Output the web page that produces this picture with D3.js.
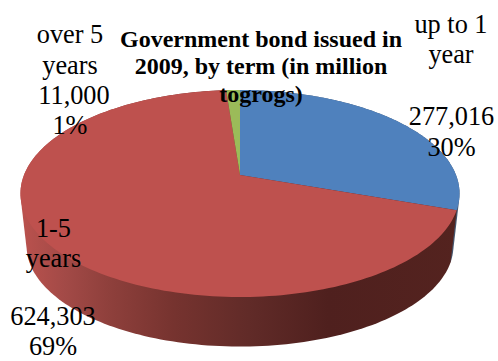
<!DOCTYPE html>
<html>
<head>
<meta charset="utf-8">
<style>
html,body{margin:0;padding:0;background:#fff}
svg{display:block}
text{font-family:"Liberation Serif",serif;fill:#000}
</style>
<script src="https://cdnjs.cloudflare.com/ajax/libs/d3/7.8.5/d3.min.js"></script>
</head>
<body>
<svg id="chart" width="498" height="361"></svg>
<script>
const categories = ["up to 1 year", "1-5 years", "over 5 years"];
const amounts = [277016, 624303, 11000];
const shares = ["30%", "69%", "1%"];
const topColors = ["#4f81bd", "#be514e", "#9bbb59"];
const sideColors = ["#45566e", "#7a3330", "#5a6e33"];
const titleLines = ["Government bond issued in", "2009, by term (in million", "togrogs)"];

const svg = d3.select("#chart");

// Perspective projection of a flat disc: the hub sits above the centre of the rim's ellipse.
const hub = {x: 240, y: 175};
const disc = {a: 216, b: 100.2, k: 0.1787};
const base = {scale: 0.972, drop: 53};

function project(theta, top) {
  const u = Math.sin(theta), v = -Math.cos(theta);
  const w = 1 - disc.k * v;
  const s = top ? 1 : base.scale;
  const dy = top ? 0 : base.drop;
  return [hub.x + s * disc.a * u / w, hub.y + dy + s * disc.b * v / w];
}

const pie = d3.pie().sort(null).startAngle(0).endAngle(2 * Math.PI);
const arcs = pie(amounts);

const line = d3.line();
function rim(a0, a1, top) {
  return d3.range(0, 181).map(i => project(a0 + (a1 - a0) * i / 180, top));
}

// Shaded wall under the red slice runs light to dark from left to right
const defs = svg.append("defs");
const grad = defs.append("linearGradient").attr("id", "redWall")
  .attr("gradientUnits", "userSpaceOnUse")
  .attr("x1", 20).attr("x2", 460).attr("y1", 0).attr("y2", 0);
[[0, "#bb524e"], [0.1, "#a34a47"], [0.2, "#8f403c"], [0.35, "#76332f"], [0.52, "#612b28"], [0.7, "#4f201e"], [1, "#54231f"]]
  .forEach(([o, c]) => grad.append("stop").attr("offset", o).attr("stop-color", c));

// Wall: convex outline swept between the top rim and the base rim of each slice.
// The red slice goes last so its wall covers the blue one along their shared edge.
const wall = svg.append("g");
[0, 2, 1].forEach(i => {
  const d = arcs[i];
  const pts = rim(d.startAngle, d.endAngle, true).concat(rim(d.startAngle, d.endAngle, false));
  wall.append("path")
    .attr("d", line(d3.polygonHull(pts)) + "Z")
    .attr("fill", i === 1 ? "url(#redWall)" : sideColors[i]);
});

// Top face
const face = svg.append("g");
arcs.forEach((d, i) => {
  const pts = [[hub.x, hub.y]].concat(rim(d.startAngle, d.endAngle, true));
  face.append("path")
    .attr("d", line(pts) + "Z")
    .attr("fill", topColors[i]);
});

// Title
const title = svg.append("g").attr("font-weight", "bold").attr("font-size", 24).attr("text-anchor", "middle");
titleLines.forEach((t, i) => {
  title.append("text").attr("x", 261).attr("y", 47 + i * 27.4).text(t);
});

// Slice labels: term on two lines, then amount and share
const fmt = d3.format(",");
const labelLayouts = [
  {x: 451, ys: [33, 63], vx: 451.5, vy: [125, 156]},
  {x: 53.5, ys: [237, 267], vx: 53, vy: [325, 355]},
  {x: 70, ys: [43, 74], vx: 74, vy: [104, 134]}
];
const nameLines = [["up to 1", "year"], ["1-5", "years"], ["over 5", "years"]];
const labels = svg.append("g").attr("font-size", 26.3).attr("text-anchor", "middle");
categories.forEach((c, i) => {
  const l = labelLayouts[i];
  nameLines[i].forEach((t, j) => labels.append("text").attr("x", l.x).attr("y", l.ys[j]).text(t));
  labels.append("text").attr("x", l.vx).attr("y", l.vy[0]).text(fmt(amounts[i]));
  labels.append("text").attr("x", i === 2 ? 70 : l.vx).attr("y", l.vy[1]).text(shares[i]);
});
</script>
</body>
</html>
